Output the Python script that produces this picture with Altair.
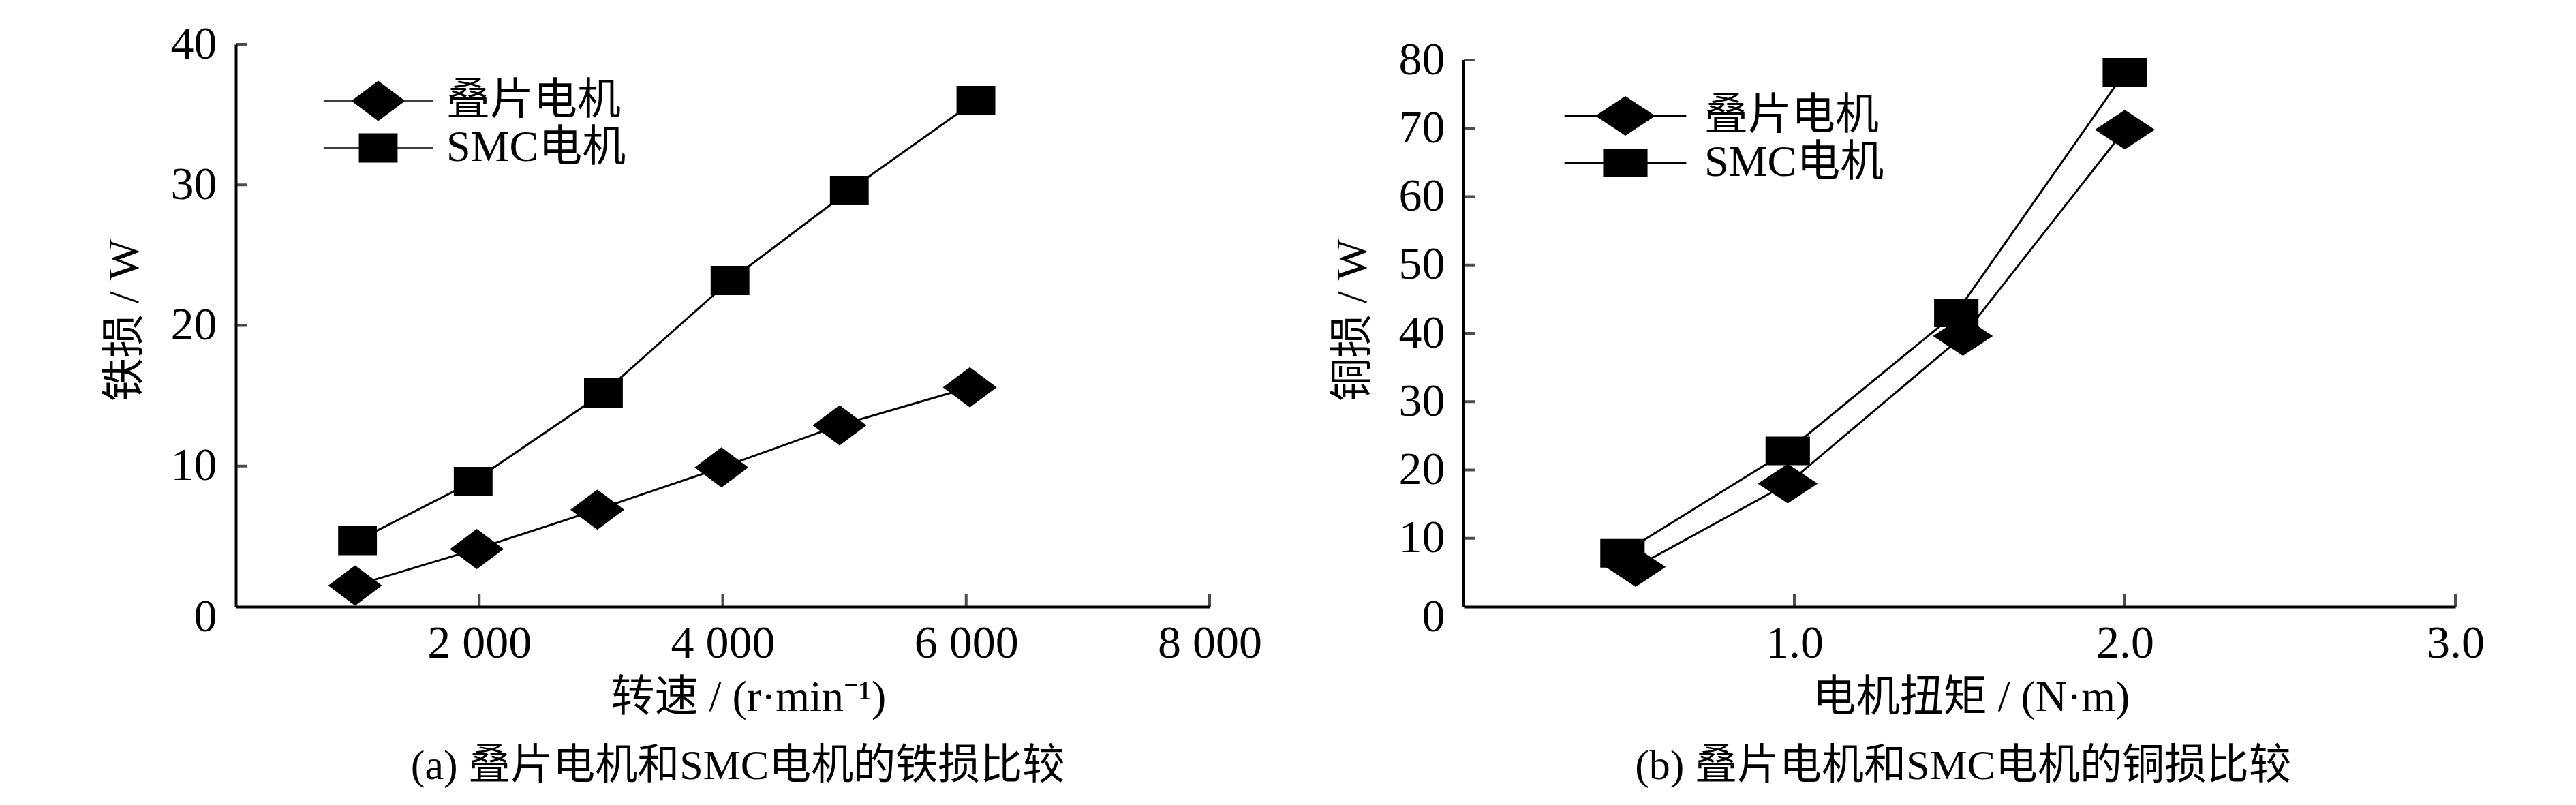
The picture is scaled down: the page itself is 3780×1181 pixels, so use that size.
import altair as alt
import pandas as pd

# ---------------- data ----------------
series_names = ["叠片电机", "SMC电机"]

speed_lam = [980, 1980, 2970, 3990, 4960, 6030]
iron_lam = [1.5, 4.1, 6.9, 9.9, 12.9, 15.6]
speed_smc = [1000, 1950, 3020, 4060, 5040, 6080]
iron_smc = [4.7, 8.9, 15.2, 23.2, 29.6, 36.0]

torque_lam = [0.52, 0.98, 1.51, 2.0]
copper_lam = [5.8, 18.0, 39.6, 69.8]
torque_smc = [0.48, 0.98, 1.49, 2.0]
copper_smc = [7.8, 22.8, 43.0, 78.2]

speed_ticks = [2000, 4000, 6000, 8000]
iron_ticks = [0, 10, 20, 30, 40]
torque_ticks = [1.0, 2.0, 3.0]
copper_ticks = [0, 10, 20, 30, 40, 50, 60, 70, 80]

SERIF = "Liberation Serif"
MIX = "Liberation Serif, Noto Sans CJK SC"


def panel(x_lam, y_lam, x_smc, y_smc, xdom, ydom, xticks, yticks,
          xlabel_expr, xtitle, ytitle, caption, W, H, unit, dia_h, sq_w, sq_h,
          leg, lab_off, xtitle_x, cap_dx, y_rule):
    S = unit * unit
    line_half = 2.03
    lt = 0.02
    dia = f"M-1,0L0,-{dia_h}L1,0L0,{dia_h}Z"
    sq = f"M-{sq_w},-{sq_h}H{sq_w}V{sq_h}H-{sq_w}Z"
    bar = f"M-{line_half},-{lt}H{line_half}V{lt}H-{line_half}Z"

    df_lam = pd.DataFrame({"x": x_lam, "y": y_lam, "series": series_names[0]})
    df_smc = pd.DataFrame({"x": x_smc, "y": y_smc, "series": series_names[1]})
    df_xt = pd.DataFrame({"x": xticks})
    df_yt = pd.DataFrame({"y": [t for t in yticks if t != 0]})

    xscale = alt.Scale(domain=xdom, nice=False, zero=False)
    yscale = alt.Scale(domain=ydom, nice=False, zero=False)

    xaxis = alt.Axis(values=xticks, labelExpr=xlabel_expr, title=xtitle,
                     domain=True, domainColor="black", domainWidth=4,
                     ticks=False, tickSize=0, grid=False,
                     labelFont=SERIF, labelFontSize=68, labelColor="black",
                     labelPadding=20, labelFlush=False, labelOverlap=False,
                     titleFont=MIX, titleFontSize=64, titleFontWeight="normal",
                     titleColor="black", titleX=xtitle_x, titleY=133,
                     titleBaseline="middle", titleAlign="center")
    yaxis = alt.Axis(values=yticks, title=ytitle,
                     domain=(y_rule is None), domainColor="black", domainWidth=4,
                     ticks=False, tickSize=0, grid=False,
                     labelFont=SERIF, labelFontSize=68, labelColor="black",
                     labelPadding=28, labelFlush=False, labelOverlap=False,
                     labelOffset={"condition": {"test": "datum.value === 0", "value": 15}, "value": 0},
                     titleFont=MIX, titleFontSize=64, titleFontWeight="normal",
                     titleColor="black", titleX=-163, titleY=H / 2 - 8,
                     titleBaseline="middle", titleAlign="center", titleAngle=-90)

    X = alt.X("x:Q", scale=xscale, axis=xaxis)
    Y = alt.Y("y:Q", scale=yscale, axis=yaxis)

    def lines(df):
        return alt.Chart(df).mark_line(color="black", strokeWidth=3).encode(x=X, y=Y)

    def points(df, shape, legend_shape, name, lx, ly):
        return alt.Chart(df).mark_point(shape=shape, filled=True, size=S, opacity=1,
                                        strokeWidth=0).encode(
            x=X, y=Y,
            color=alt.Color("series:N",
                            scale=alt.Scale(domain=[name], range=["black"]),
                            legend=alt.Legend(orient="none", legendX=lx, legendY=ly,
                                              title=None, symbolType=legend_shape,
                                              symbolSize=S, symbolStrokeWidth=0,
                                              symbolOpacity=1,
                                              labelFont=MIX, labelFontSize=64,
                                              labelColor="black", labelOffset=lab_off,
                                              padding=0, labelLimit=0)),
        )

    xt = alt.Chart(df_xt).mark_tick(orient="vertical", size=18, thickness=4,
                                    color="black", yOffset=-9).encode(
        x=X, y=alt.datum(0),
    )
    yt = alt.Chart(df_yt).mark_tick(orient="horizontal", size=17, thickness=4,
                                    color="black", xOffset=8.5).encode(
        y=Y, x=alt.datum(xdom[0]),
    )
    layers = [lines(df_lam), lines(df_smc), xt, yt]
    if y_rule is not None:
        rule_df = pd.DataFrame({"y": [0], "y2": [y_rule]})
        layers.append(
            alt.Chart(rule_df).mark_rule(color="black", strokeWidth=4).encode(
                x=alt.datum(xdom[0]), y=Y, y2="y2:Q",
            )
        )
    layers.append(points(df_lam, dia, dia + bar, series_names[0], leg[0], leg[1]))
    layers.append(points(df_smc, sq, sq + bar, series_names[1], leg[0], leg[2]))

    return alt.layer(*layers).resolve_scale(color="independent").resolve_legend(
        color="independent"
    ).properties(
        width=W, height=H,
        title=alt.TitleParams(caption, orient="bottom", anchor="middle",
                              font=MIX, fontSize=62, fontWeight="normal",
                              color="black", offset=39, dx=cap_dx),
    )


H = 825
left = panel(speed_lam, iron_lam, speed_smc, iron_smc,
             [0, 8000], [0, 40], speed_ticks, iron_ticks,
             "replace(format(datum.value, ','), ',', ' ')",
             "转速 / (r·min⁻¹)", "铁损 / W",
             "(a) 叠片电机和SMC电机的铁损比较",
             1429, H, 79, 0.747, 0.72, 0.544,
             (169.5, 43.5, 112.5), 60.5, 752, 22, None)

right = panel(torque_lam, copper_lam, torque_smc, copper_smc,
              [0, 3], [0, 80 * 825 / 802], torque_ticks, copper_ticks,
              "format(datum.value, '.1f')",
              "电机扭矩 / (N·m)", "铜损 / W",
              "(b) 叠片电机和SMC电机的铜损比较",
              1455, H, 88, 0.66, 0.74, 0.477,
              (193, 61, 130), 72, 744, 5, 80)

chart = alt.hconcat(left, right, spacing=373, bounds="flush").properties(
    padding={"left": 143, "top": 23, "right": 5, "bottom": 5},
    background="white",
).configure_view(stroke=None)

chart.save("out.html", embed_options={"renderer": "svg", "actions": False})
